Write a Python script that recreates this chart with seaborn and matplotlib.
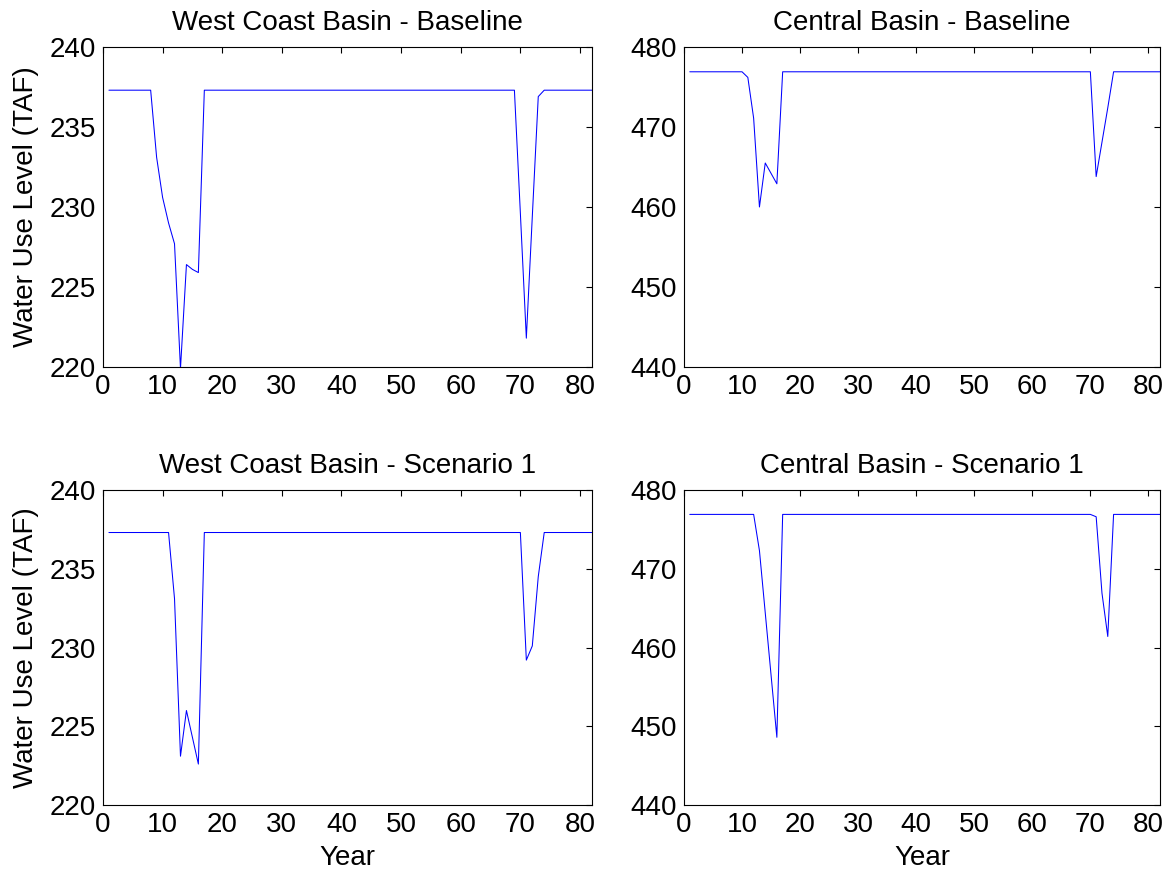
import numpy as np
import pandas as pd
import matplotlib
matplotlib.use("Agg")
import matplotlib.pyplot as plt
import seaborn as sns

years = list(range(1, 83))

WC_FLAT = 237.3
CB_FLAT = 476.9

# dips: year -> value (other years at flat level)
wc_base_dips = {9: 233.1, 10: 230.6, 11: 229.0, 12: 227.7, 13: 219.9, 14: 226.4, 15: 226.1, 16: 225.9,
                70: 229.6, 71: 221.8, 72: 229.4, 73: 236.9}
cb_base_dips = {11: 476.2, 12: 471.1, 13: 460.0, 14: 465.5, 15: 464.2, 16: 462.9,
                71: 463.8, 72: 468.1, 73: 472.4}
wc_s1_dips = {12: 233.1, 13: 223.1, 14: 226.0, 15: 224.3, 16: 222.6,
              71: 229.2, 72: 230.1, 73: 234.5}
cb_s1_dips = {13: 472.3, 14: 464.4, 15: 456.5, 16: 448.6,
              71: 476.6, 72: 466.9, 73: 461.4}

def build(flat, dips):
    return [dips.get(y, flat) for y in years]

wc_base = build(WC_FLAT, wc_base_dips)
cb_base = build(CB_FLAT, cb_base_dips)
wc_s1 = build(WC_FLAT, wc_s1_dips)
cb_s1 = build(CB_FLAT, cb_s1_dips)

titles = ["West Coast Basin - Baseline", "Central Basin - Baseline",
          "West Coast Basin - Scenario 1", "Central Basin - Scenario 1"]
series = [wc_base, cb_base, wc_s1, cb_s1]
ylims = [(220, 240), (440, 480), (220, 240), (440, 480)]
yticks = [[220, 225, 230, 235, 240], [440, 450, 460, 470, 480],
          [220, 225, 230, 235, 240], [440, 450, 460, 470, 480]]
xticks = [0, 10, 20, 30, 40, 50, 60, 70, 80]

sns.set_style("white")
plt.rcParams['font.family'] = ['Liberation Sans', 'DejaVu Sans']
plt.rcParams['text.color'] = 'black'
plt.rcParams['axes.labelcolor'] = 'black'

fig = plt.figure(figsize=(11.74, 8.8), dpi=100)
positions = [
    [0.0877, 0.5830, 0.4165, 0.3636],
    [0.5826, 0.5830, 0.4055, 0.3636],
    [0.0877, 0.0852, 0.4165, 0.3580],
    [0.5826, 0.0852, 0.4055, 0.3580],
]

FS = 20
for i in range(4):
    ax = fig.add_axes(positions[i])
    df = pd.DataFrame({"Year": years, "Value": series[i]})
    sns.lineplot(data=df, x="Year", y="Value", ax=ax, color="#0000ff", linewidth=0.75)
    ax.set_xlim(0, 82)
    ax.set_ylim(*ylims[i])
    ax.set_xticks(xticks)
    ax.set_yticks(yticks[i])
    ax.tick_params(direction="in", length=4, width=0.8, labelsize=FS, top=True, right=True,
                   colors="black", pad=5)
    for s in ax.spines.values():
        s.set_color("black")
        s.set_linewidth(0.8)
    ax.set_title(titles[i], fontsize=FS, pad=12, color="black")
    if i % 2 == 0:
        ax.set_ylabel("Water Use Level (TAF)", fontsize=FS, labelpad=8)
    else:
        ax.set_ylabel("")
    if i >= 2:
        ax.set_xlabel("Year", fontsize=FS, labelpad=5)
    else:
        ax.set_xlabel("")

fig.savefig("out.png", dpi=100)
